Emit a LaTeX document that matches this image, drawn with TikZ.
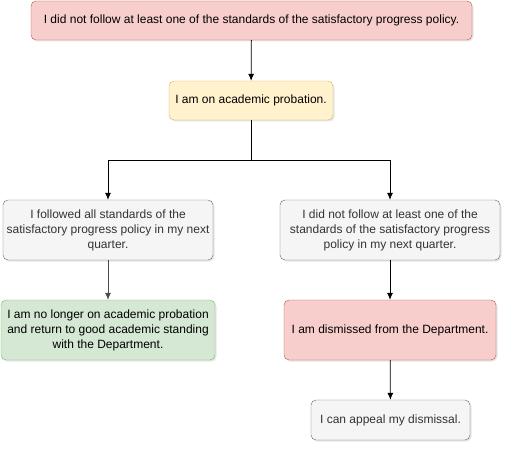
\documentclass[tikz,border=0pt]{standalone}
\usepackage{fontspec}
\setmainfont{Liberation Sans}
\usetikzlibrary{arrows.meta,shadows}

\definecolor{redfill}{HTML}{F8CECC}
\definecolor{redline}{HTML}{B85450}
\definecolor{yellowfill}{HTML}{FFF2CC}
\definecolor{yellowline}{HTML}{D6B656}
\definecolor{grayfill}{HTML}{F5F5F5}
\definecolor{grayline}{HTML}{666666}
\definecolor{greenfill}{HTML}{D5E8D4}
\definecolor{greenline}{HTML}{82B366}
\definecolor{graytext}{HTML}{333333}

\tikzset{
  box/.style={draw, rounded corners=5pt, inner sep=0pt, align=center,
    font=\fontsize{12}{15}\selectfont,
    drop shadow={shadow xshift=1.5pt, shadow yshift=-1.5pt, opacity=0.2}},
  redbox/.style={box, fill=redfill, draw=redline},
  yellowbox/.style={box, fill=yellowfill, draw=yellowline},
  graybox/.style={box, fill=grayfill, draw=grayline, text=graytext},
  greenbox/.style={box, fill=greenfill, draw=greenline},
  arr/.style={-{Latex[length=7pt,width=6pt]}, line width=0.75pt},
}

\begin{document}
\begin{tikzpicture}[x=1pt, y=1pt]
			%%%%% START %%%%%
			\useasboundingbox (0, 0) rectangle (512, -452);
			
			\node[redbox, minimum width=441, minimum height=39] (notfollow) at (251.5, -20.5)
				{I did not follow at least one of the standards of the satisfactory progress policy.};
			\node[yellowbox, minimum width=164, minimum height=39] (probation) at (251, -100.5)
				{I am on academic probation.};
			
			\node[graybox, minimum width=210, minimum height=60] (followed) at (108, -230)
				{I followed all standards of the\\satisfactory progress policy in my next\\quarter.};
			\node[graybox, minimum width=220, minimum height=60] (notnext) at (390, -230)
				{I did not follow at least one of the\\standards of the satisfactory progress\\policy in my next quarter.};
			
			\node[greenbox, minimum width=214, minimum height=60] (good) at (108, -330)
				{I am no longer on academic probation\\and return to good academic standing\\with the Department.};
			\node[redbox, minimum width=212, minimum height=60] (dismissed) at (390, -330)
				{I am dismissed from the Department.};
			\node[graybox, minimum width=159, minimum height=40] (appeal) at (390.5, -420)
				{I can appeal my dismissal.};
			
			\coordinate (split) at (251, -160);
			
			\draw[arr] (notfollow) -- (probation);
			\draw[line width=0.75pt] (probation) -- (split);
			\draw[arr] (split) -| (followed);
			\draw[arr] (split) -| (notnext);
			\draw[arr, color=black!70] (followed) -- (good);
			\draw[arr] (notnext) -- (dismissed);
			\draw[arr] (dismissed) -- (appeal);
			
			%%%%% END %%%%%
\end{tikzpicture}
\end{document}
